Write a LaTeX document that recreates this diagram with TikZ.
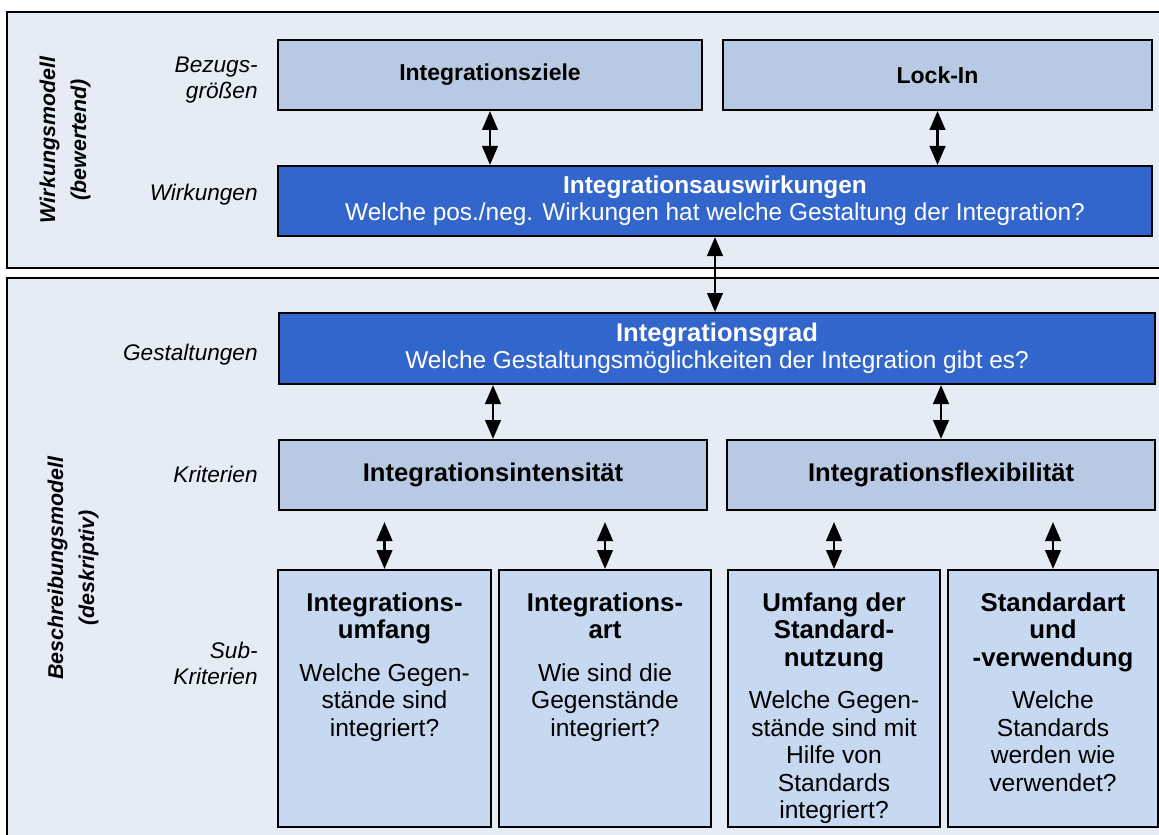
\documentclass[tikz,border=0pt]{standalone}
\usepackage{fontspec}
\setmainfont{Liberation Sans}
\usetikzlibrary{arrows.meta,positioning}
\definecolor{panelbg}{HTML}{E5ECF6}
\definecolor{critblue}{HTML}{B8C9E3}
\definecolor{subblue}{HTML}{C6D9F0}
\definecolor{keyblue}{HTML}{3366CC}
\newcommand{\subh}[1]{{\fontsize{12.9}{13.75}\selectfont\bfseries #1}}

\begin{document}
\begin{tikzpicture}[x=0.5pt, y=-0.5pt,
  panel/.style={draw, line width=1pt, fill=panelbg},
  critbox/.style={draw, line width=1pt, fill=critblue, minimum height=35pt,
    font=\bfseries\fontsize{12.8}{14}\selectfont},
  keybox/.style={draw, line width=1pt, fill=keyblue, text=white, minimum height=35pt,
    align=center, font=\fontsize{12.2}{13.5}\selectfont},
  subbox/.style={draw, line width=1pt, fill=subblue, minimum height=128.5pt},
  subtext/.style={align=center, inner sep=0pt, font=\fontsize{12.3}{13.75}\selectfont},
  rowlabel/.style={align=right, inner sep=0pt, font=\itshape\fontsize{11.3}{13}\selectfont},
  modellabel/.style={rotate=90, align=center, font=\bfseries\itshape\fontsize{10.7}{15.5}\selectfont},
  link/.style={{Triangle[length=9.5pt,width=7.75pt]}-{Triangle[length=9.5pt,width=7.75pt]}, line width=1.35pt}]

  \useasboundingbox (0,0) rectangle (1159,834);
  \clip (0,0) rectangle (1159,834);

  % Wirkungsmodell
  \draw[panel] (7,12) rectangle (1185,268);
  \node[modellabel] (wirkmod) at (65,140) {Wirkungsmodell\\(bewertend)};

  \node[critbox, minimum width=212pt, font=\bfseries\fontsize{11.5}{14}\selectfont] (ziele) at (490,75) {Integrationsziele};
  \node[critbox, minimum width=214.5pt, font=\bfseries\fontsize{11.5}{14}\selectfont] (lockin) at (937.5,75) {Lock-In};
  \node[keybox, minimum width=437pt] (auswirk) at (715,201)
    {\textbf{Integrationsauswirkungen}\\Welche pos./neg. Wirkungen hat welche Gestaltung der Integration?};

  \node[rowlabel, anchor=east] (bezug) at (258,80) {Bezugs-\\größen};
  \node[rowlabel, anchor=base east] (wirk) at (258,200) {Wirkungen};

  \draw[link] (ziele.south) -- (ziele.south |- auswirk.north);
  \draw[link] (lockin.south) -- (lockin.south |- auswirk.north);

  % Beschreibungsmodell
  \draw[panel] (7,278) rectangle (1185,860);
  \node[modellabel] (beschmod) at (73,568) {Beschreibungsmodell\\(deskriptiv)};

  \node[keybox, minimum width=438pt, minimum height=35.5pt] (grad) at (717,348.5)
    {\textbf{\fontsize{12.8}{13.5}\selectfont Integrationsgrad}\\Welche Gestaltungsmöglichkeiten der Integration gibt es?};
  \node[critbox, minimum width=214pt] (intens) at (493,475) {Integrationsintensität};
  \node[critbox, minimum width=214pt] (flex) at (941,475) {Integrationsflexibilität};

  \node[subbox, minimum width=106.5pt] (sub1) at (384.5,698.5) {};
  \node[subbox, minimum width=106pt] (sub2) at (605,698.5) {};
  \node[subbox, minimum width=106pt] (sub3) at (834,698.5) {};
  \node[subbox, minimum width=105pt] (sub4) at (1053,698.5) {};

  \node[subtext, below=11.5pt of sub1.north] (sub1txt)
    {\subh{Integrations-}\\\subh{umfang}\\[7.5pt]Welche Gegen-\\stände sind\\integriert?};
  \node[subtext, below=11.5pt of sub2.north] (sub2txt)
    {\subh{Integrations-}\\\subh{art}\\[7.5pt]Wie sind die\\Gegenstände\\integriert?};
  \node[subtext, below=11.5pt of sub3.north] (sub3txt)
    {\subh{Umfang der}\\\subh{Standard-}\\\subh{nutzung}\\[7.5pt]Welche Gegen-\\stände sind mit\\Hilfe von\\Standards\\integriert?};
  \node[subtext, below=11.5pt of sub4.north] (sub4txt)
    {\subh{Standardart}\\\subh{und}\\\subh{-verwendung}\\[7.5pt]Welche\\Standards\\werden wie\\verwendet?};

  \node[rowlabel, anchor=base east] (gestalt) at (258,360) {Gestaltungen};
  \node[rowlabel, anchor=base east] (krit) at (258,482) {Kriterien};
  \node[rowlabel, anchor=east] (subkrit) at (258,663) {Sub-\\Kriterien};

  \draw[link] (auswirk.south) -- (auswirk.south |- grad.north);
  \draw[link] (intens.north |- grad.south) -- (intens.north);
  \draw[link] (flex.north |- grad.south) -- (flex.north);
  \foreach \s in {sub1,sub2,sub3,sub4}
    \draw[link] ([yshift=23.5pt]\s.north) -- (\s.north);
\end{tikzpicture}
\end{document}
